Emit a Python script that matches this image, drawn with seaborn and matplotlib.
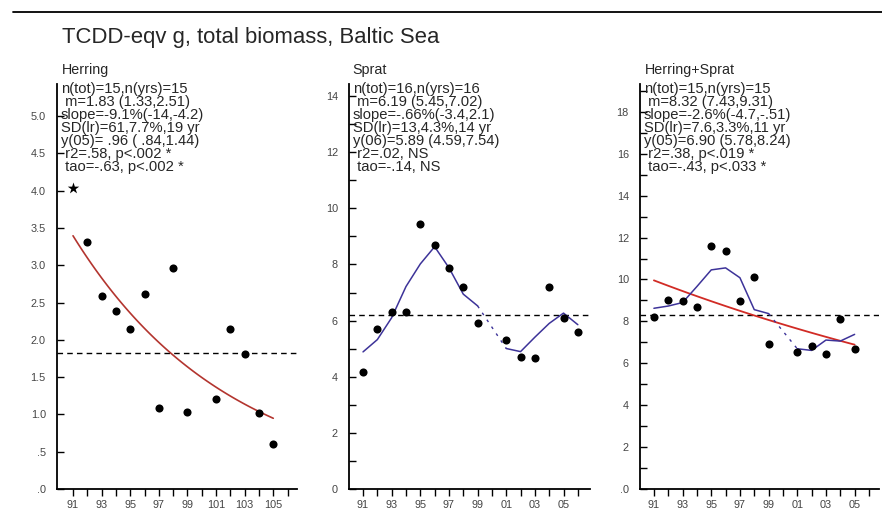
import numpy as np
import pandas as pd
import matplotlib
matplotlib.use("Agg")
import matplotlib.pyplot as plt
import seaborn as sns
from matplotlib.lines import Line2D

# ---- data (TCDD-eqv in total biomass, Baltic Sea; years as 91..106) ----
herring_years = [91, 92, 93, 94, 95, 96, 97, 98, 99, 101, 102, 103, 104, 105]
herring_values = [4.03, 3.31, 2.59, 2.38, 2.14, 2.61, 1.08, 2.96, 1.03, 1.20, 2.14, 1.81, 1.02, 0.60]
herring_star_year = 91

sprat_years = [91, 92, 93, 94, 95, 96, 97, 98, 99, 101, 102, 103, 104, 105, 106]
sprat_values = [4.18, 5.71, 6.32, 6.30, 9.43, 8.68, 7.86, 7.18, 5.93, 5.32, 4.71, 4.68, 7.18, 6.11, 5.61]

total_years = [91, 92, 93, 94, 95, 96, 97, 98, 99, 101, 102, 103, 104, 105]
total_values = [8.23, 9.04, 8.95, 8.71, 11.58, 11.34, 8.95, 10.10, 6.94, 6.55, 6.84, 6.46, 8.13, 6.70]

panel_names = ["Herring", "Sprat", "Herring+Sprat"]
panel_means = [1.83, 6.19, 8.32]

herring_stats = ["n(tot)=15,n(yrs)=15", " m=1.83 (1.33,2.51)", "slope=-9.1%(-14,-4.2)",
                 "SD(lr)=61,7.7%,19 yr", "y(05)= .96 ( .84,1.44)", " r2=.58, p<.002 *",
                 " tao=-.63, p<.002 *"]
sprat_stats = ["n(tot)=16,n(yrs)=16", " m=6.19 (5.45,7.02)", "slope=-.66%(-3.4,2.1)",
               "SD(lr)=13,4.3%,14 yr", "y(06)=5.89 (4.59,7.54)", " r2=.02, NS",
               " tao=-.14, NS"]
total_stats = ["n(tot)=15,n(yrs)=15", " m=8.32 (7.43,9.31)", "slope=-2.6%(-4.7,-.51)",
               "SD(lr)=7.6,3.3%,11 yr", "y(05)=6.90 (5.78,8.24)", " r2=.38, p<.019 *",
               " tao=-.43, p<.033 *"]

xtick_labels_1 = ["91", "93", "95", "97", "99", "101", "103", "105"]
xtick_labels_23 = ["91", "93", "95", "97", "99", "01", "03", "05"]
ytick_labels_1 = [".0", ".5", "1.0", "1.5", "2.0", "2.5", "3.0", "3.5", "4.0", "4.5", "5.0"]
ytick_labels_2 = ["0", "2", "4", "6", "8", "10", "12", "14"]
ytick_labels_3 = [".0", "2", "4", "6", "8", "10", "12", "14", "16", "18"]

title = "TCDD-eqv g, total biomass, Baltic Sea"

# ---- styling ----
sns.set_theme(style="white")
plt.rcParams['font.family'] = ['Liberation Sans', 'DejaVu Sans']

RED1 = "#b3352f"
RED3 = "#d12b25"
BLUE = "#3d3399"
TXT = "#262626"
TICK = "#444444"

W, H = 882, 515
fig = plt.figure(figsize=(W / 100, H / 100), dpi=100)
fig.patch.set_facecolor("white")


def make_axes(x0, x1, y0=84, y1=489):
    return fig.add_axes([x0 / W, 1 - y1 / H, (x1 - x0) / W, (y1 - y0) / H])


def loglin_fit(years, values):
    b, a = np.polyfit(np.asarray(years, float), np.log(values), 1)
    grid = np.linspace(min(years), max(years), 120)
    return grid, np.exp(a + b * grid)


def running_geo_mean(years, values):
    lookup = dict(zip(years, np.log(values)))
    out = []
    for yr in years:
        win = [lookup[k] for k in (yr - 1, yr, yr + 1) if k in lookup]
        out.append(np.exp(np.mean(win)))
    return np.array(out)


def draw_smoother(ax, years, values, color):
    smooth = running_geo_mean(years, values)
    yrs = np.asarray(years)
    breaks = np.where(np.diff(yrs) > 1)[0]
    starts = np.r_[0, breaks + 1]
    ends = np.r_[breaks + 1, len(yrs)]
    for s, e in zip(starts, ends):
        seg = pd.DataFrame({"year": yrs[s:e], "v": smooth[s:e]})
        sns.lineplot(data=seg, x="year", y="v", ax=ax, color=color, lw=1.1,
                     estimator=None, sort=False)
    for b in breaks:
        gap = pd.DataFrame({"year": yrs[b:b + 2], "v": smooth[b:b + 2]})
        sns.lineplot(data=gap, x="year", y="v", ax=ax, color=color, lw=1.0,
                     estimator=None, sort=False, linestyle=(0, (2, 4)))


def style_axes(ax, xlim, ylim, yticks, ylabels, yminor, xlabels):
    ax.set_xlim(*xlim)
    ax.set_ylim(*ylim)
    for side in ("top", "right"):
        ax.spines[side].set_visible(False)
    for side in ("left", "bottom"):
        ax.spines[side].set_color("black")
        ax.spines[side].set_linewidth(1.3)
    ax.set_yticks(yticks)
    ax.set_yticklabels(ylabels)
    ax.set_yticks(yminor, minor=True)
    xt = list(range(91, 107))
    ax.set_xticks(xt)
    lab = []
    it = iter(xlabels)
    for t in xt:
        lab.append(next(it) if (t - 91) % 2 == 0 and t <= 105 else "")
    ax.set_xticklabels(lab)
    ax.tick_params(axis="y", which="both", direction="in", length=5, width=1.0,
                   color="black", labelsize=7.8, labelcolor=TICK, pad=8, left=True)
    ax.tick_params(axis="x", direction="out", length=5, width=1.0, color="black",
                   labelsize=7.8, labelcolor=TICK, pad=3, bottom=True)
    ax.set_xlabel("")
    ax.set_ylabel("")
    ax.set_facecolor("none")
    ax.grid(False)


def add_stats(x_px, lines, base_px=93, step_px=13.0):
    for i, line in enumerate(lines):
        fig.text(x_px / W, 1 - (base_px + i * step_px) / H, line, fontsize=10.6,
                 color=TXT, ha="left", va="baseline")


# ---- panel 1: Herring ----
ax1 = make_axes(57, 297)
ax1.axhline(panel_means[0], color="black", lw=1.0, ls=(0, (4, 3)))
gx, gy = loglin_fit(herring_years, herring_values)
sns.lineplot(x=gx, y=gy, ax=ax1, color=RED1, lw=1.2)
df1 = pd.DataFrame({"year": herring_years, "v": herring_values})
dots1 = df1[df1["year"] != herring_star_year]
star1 = df1[df1["year"] == herring_star_year]
sns.scatterplot(data=dots1, x="year", y="v", ax=ax1, color="black", s=34,
                linewidth=0, zorder=5)
sns.scatterplot(data=star1, x="year", y="v", ax=ax1, color="black", s=75,
                marker="*", linewidth=0, zorder=5)
style_axes(ax1, (89.88, 106.66), (0, 5.43), np.arange(0, 5.01, 0.5), ytick_labels_1,
           [], xtick_labels_1)

# ---- panel 2: Sprat ----
ax2 = make_axes(349, 590)
ax2.axhline(panel_means[1], color="black", lw=1.0, ls=(0, (4, 3)))
draw_smoother(ax2, sprat_years, sprat_values, BLUE)
sns.scatterplot(x=sprat_years, y=sprat_values, ax=ax2, color="black", s=34,
                linewidth=0, zorder=5)
style_axes(ax2, (90.02, 106.85), (0, 14.43), np.arange(0, 15, 2), ytick_labels_2,
           np.arange(1, 15, 2), xtick_labels_23)

# ---- panel 3: Herring+Sprat ----
ax3 = make_axes(640, 879)
ax3.axhline(panel_means[2], color="black", lw=1.0, ls=(0, (4, 3)))
gx3, gy3 = loglin_fit(total_years, total_values)
sns.lineplot(x=gx3, y=gy3, ax=ax3, color=RED3, lw=1.3)
draw_smoother(ax3, total_years, total_values, BLUE)
sns.scatterplot(x=total_years, y=total_values, ax=ax3, color="black", s=34,
                linewidth=0, zorder=5)
style_axes(ax3, (90.03, 106.7), (0, 19.33), np.arange(0, 19, 2), ytick_labels_3,
           np.arange(1, 20, 2), xtick_labels_23)

# ---- texts ----
fig.add_artist(Line2D([13 / W, 1.0], [1 - 12 / H, 1 - 12 / H], color="black", lw=1.3))
fig.text(62 / W, 1 - 37 / H, title, fontsize=15.9, color=TXT, ha="left", va="center")
for xp, name in zip([62, 352, 645], panel_names):
    fig.text(xp / W, 1 - 70 / H, name, fontsize=10.3, color=TXT, ha="left", va="center")
add_stats(61, herring_stats)
add_stats(353, sprat_stats)
add_stats(644, total_stats)

fig.savefig("out.png", dpi=100, facecolor="white")
